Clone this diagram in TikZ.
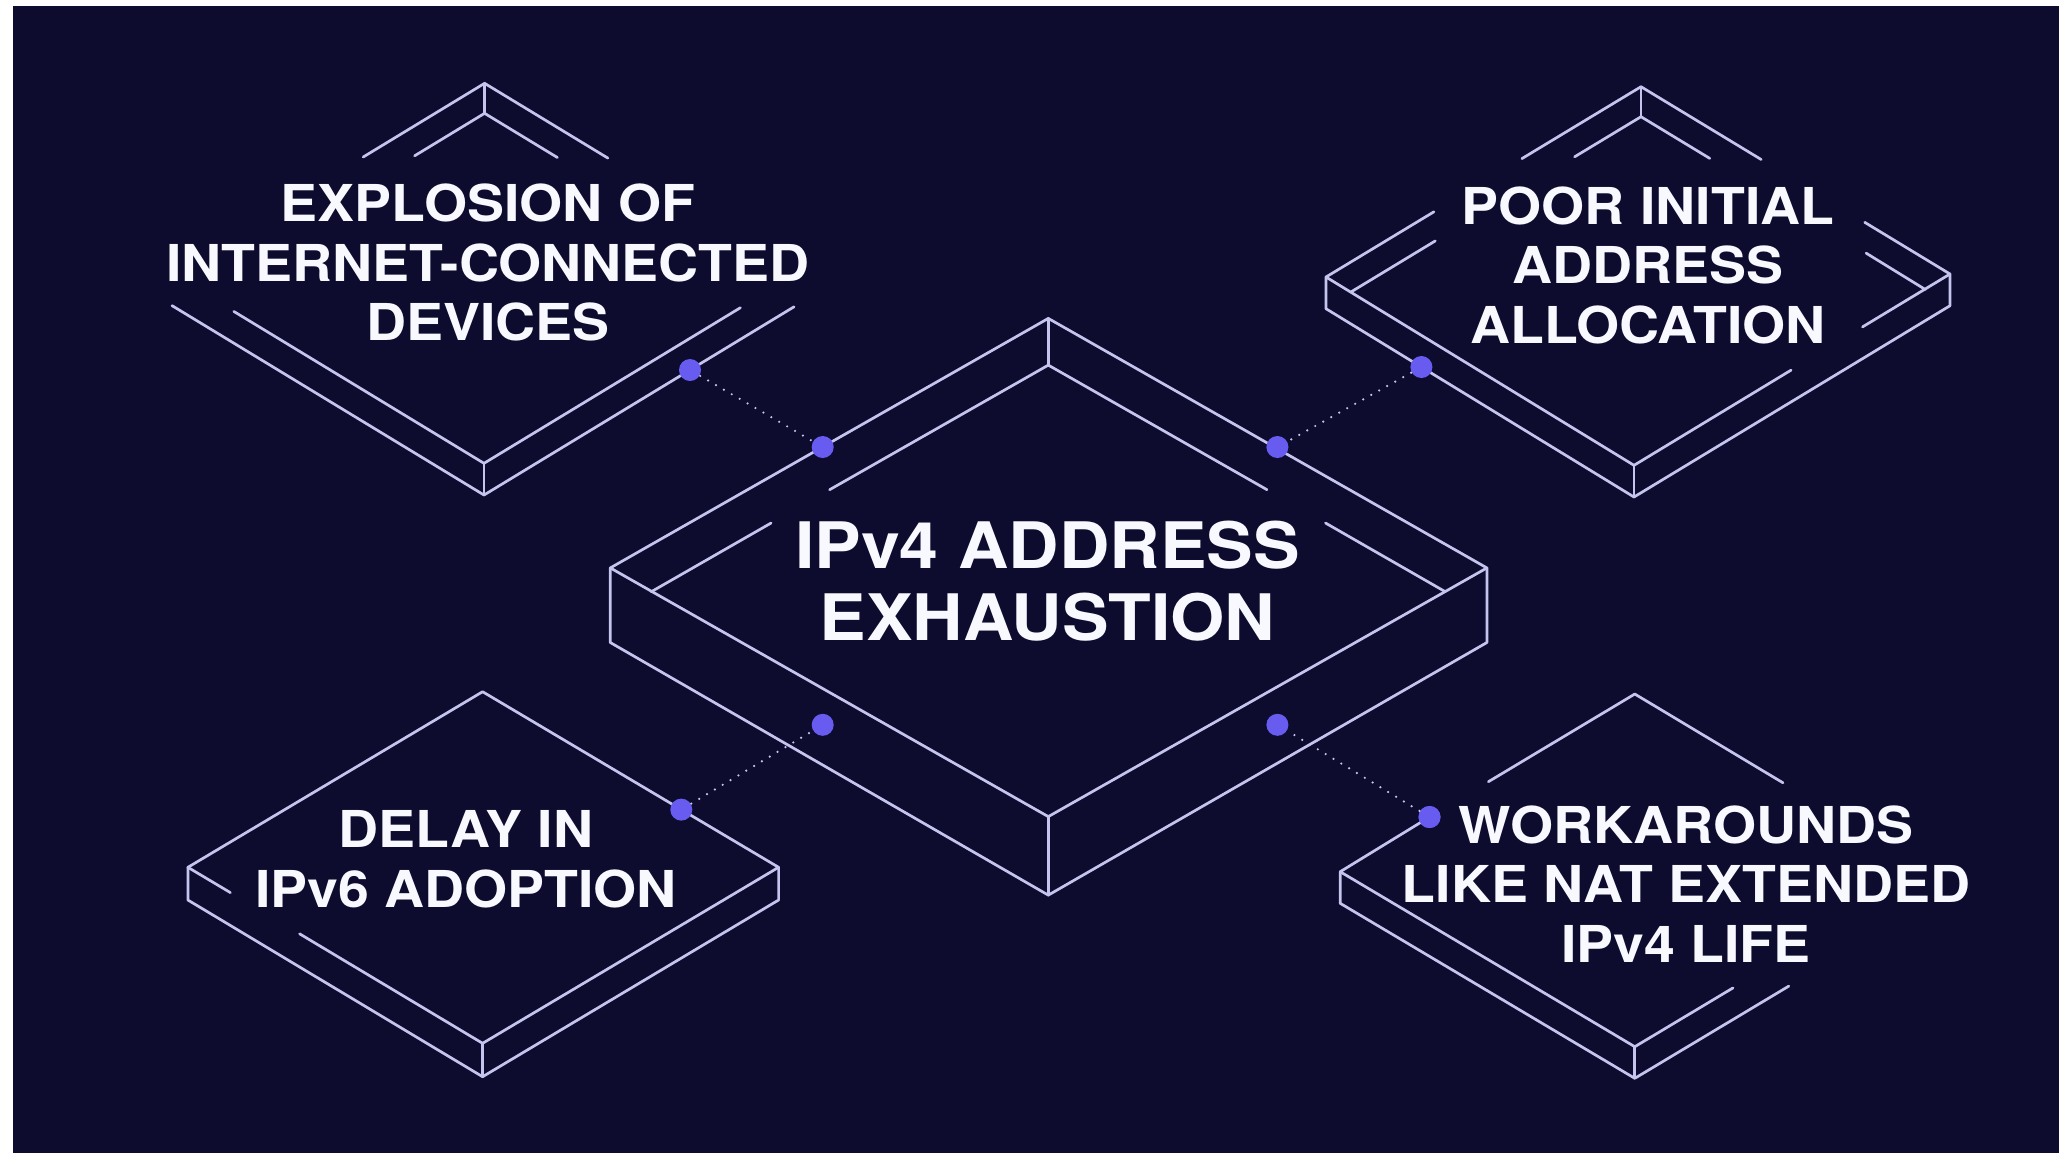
\documentclass[tikz,border=0pt]{standalone}
\usepackage{fontspec}
\setmainfont{TeX Gyre Heros}[FakeStretch=1.09]
\definecolor{bg}{RGB}{13,12,46}
\definecolor{wire}{RGB}{196,196,238}
\definecolor{pin}{RGB}{104,92,240}
\definecolor{ink}{RGB}{248,248,255}

\begin{document}
\begin{tikzpicture}[x=0.01cm,y=-0.01cm,
  wire/.style={draw=wire,line width=0.77pt,line cap=round,line join=round},
  pin/.style={circle,fill=pin,draw=none,inner sep=0pt,minimum size=0.22cm},
  link/.style={draw=wire,line width=0.7pt,line cap=round,dash pattern=on 0pt off 2.6pt},
  small/.style={text=ink,align=center,inner sep=0pt,anchor=north,
    font=\bfseries\fontsize{14.46}{16.93}\selectfont},
  big/.style={text=ink,align=center,inner sep=0pt,anchor=north,
    font=\bfseries\fontsize{18.23}{20.63}\selectfont}]

\useasboundingbox (0,0) rectangle (2059,1153);
\fill[white] (0,0) rectangle (2059,1153);
\fill[bg] (13,6) rectangle (2059,1153);

% ---------- central tray ----------
\draw[wire] (1048.3,318.4) -- (610.3,567.9) -- (610.3,642.5) -- (1048.3,895.1)
  -- (1486.9,642.5) -- (1486.9,567.9) -- cycle;
\draw[wire] (610.3,567.9) -- (1048.3,816.6) -- (1486.9,567.9);
\draw[wire] (1048.3,816.6) -- (1048.3,895.1);
\draw[wire] (1048.3,318.4) -- (1048.3,365.1);
\draw[wire] (829.6,489.7) -- (1048.3,365.1) -- (1267.0,489.7);
\draw[wire] (771.1,523.0) -- (651.3,591.7);
\draw[wire] (1325.5,523.0) -- (1445.3,591.7);

% ---------- top-left tray ----------
\draw[wire] (363.2,157.0) -- (484.6,83.3) -- (607.9,158.1);
\draw[wire] (414.6,155.8) -- (484.6,113.3) -- (557.4,157.5);
\draw[wire] (484.6,83.3) -- (484.6,113.3);
\draw[wire] (233.8,311.4) -- (484,463.3) -- (740.4,307.7);
\draw[wire] (172,305.6) -- (484,495) -- (794,306.8);
\draw[wire] (484,463.3) -- (484,495);

% ---------- top-right tray ----------
\draw[wire] (1521.9,158.6) -- (1641,86.7) -- (1761.2,159.5);
\draw[wire] (1574.6,156.8) -- (1641,116.7) -- (1709.8,158.4);
\draw[wire] (1641,86.7) -- (1641,116.7);
\draw[wire] (1433.9,211.8) -- (1326,277) -- (1326,308.7) -- (1634,497)
  -- (1950,305.7) -- (1950,274) -- (1864.7,222.3);
\draw[wire] (1435.3,240.9) -- (1350.7,292.1);
\draw[wire] (1866.1,253.1) -- (1925.3,289.5);
\draw[wire] (1326,277) -- (1634,465.3) -- (1791.1,370.1);
\draw[wire] (1950,274) -- (1862.5,326.9);
\draw[wire] (1634,465.3) -- (1634,497);

% ---------- bottom-left slab ----------
\draw[wire] (187.9,867.3) -- (482.6,691.7) -- (778.6,867.3) -- (482.6,1043.3);
\draw[wire] (187.9,867.3) -- (187.9,900) -- (482.6,1076.7) -- (778.6,900) -- (778.6,867.3);
\draw[wire] (482.6,1043.3) -- (482.6,1076.7);
\draw[wire] (187.9,867.3) -- (230.4,892.6);
\draw[wire] (299.6,933.8) -- (482.6,1043.3);

% ---------- bottom-right slab ----------
\draw[wire] (1488.4,781.7) -- (1634.8,694) -- (1783,782.8);
\draw[wire] (1340.2,871.7) -- (1340.2,903.3) -- (1634.8,1078.3) -- (1788.8,986.1);
\draw[wire] (1340.2,871.7) -- (1634.8,1046.7) -- (1733,987.9);
\draw[wire] (1634.8,1046.7) -- (1634.8,1078.3);

% ---------- connection pins ----------
\node[pin] (cTL) at (822.7,447.0) {};
\node[pin] (cTR) at (1277.4,447.0) {};
\node[pin] (cBL) at (822.7,724.8) {};
\node[pin] (cBR) at (1277.4,724.8) {};
\node[pin] (pE) at (690,370) {};
\node[pin] (pP) at (1421.4,367) {};
\node[pin] (pD) at (681.3,809.6) {};
\node[pin] (pW) at (1429.5,817) {};

\draw[wire] (pW.center) -- (1340.2,871.7);
\node[pin] at (pW) {};

\draw[link] (pE) -- (cTL);
\draw[link] (pP) -- (cTR);
\draw[link] (pD) -- (cBL);
\draw[link] (pW) -- (cBR);

% ---------- labels ----------
\node[big] (tC) at (1047.5,520) {IPv4 ADDRESS\\EXHAUSTION};
\node[small] (tE) at (488,183.3) {EXPLOSION OF\\INTERNET-CONNECTED\\DEVICES};
\node[small] (tP) at (1648,186) {POOR INITIAL\\ADDRESS\\ALLOCATION};
\node[small] (tD) at (466,810) {DELAY IN\\IPv6 ADOPTION};
\node[small] (tW) at (1686,805) {WORKAROUNDS\\LIKE NAT EXTENDED\\IPv4 LIFE};

\end{tikzpicture}
\end{document}
